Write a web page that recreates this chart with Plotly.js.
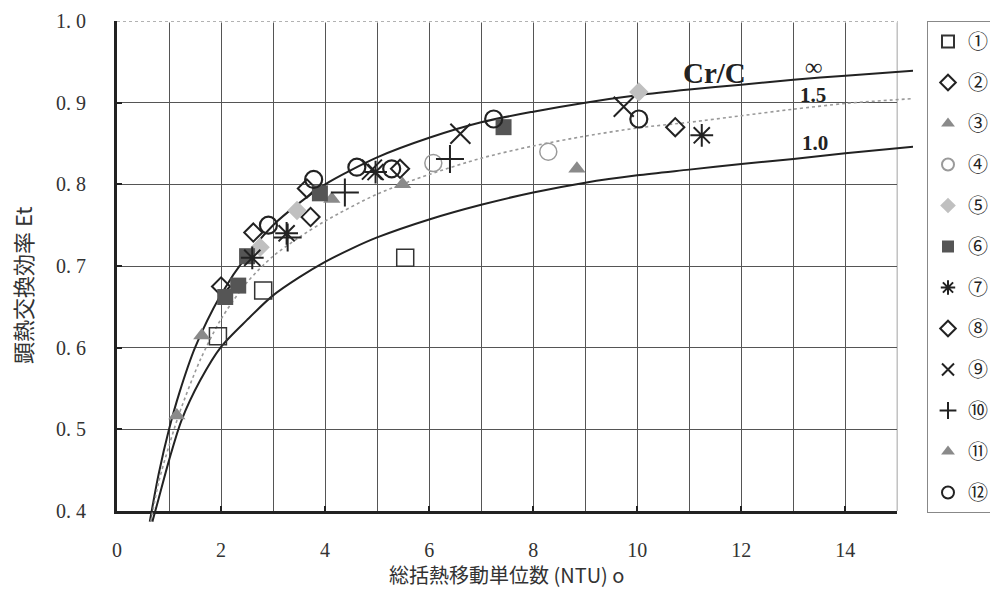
<!DOCTYPE html>
<html>
<head>
<meta charset="utf-8">
<script src="https://cdn.plot.ly/plotly-3.0.1.min.js"></script>
<style>html,body{margin:0;padding:0;background:#fff;}#chart{width:990px;height:590px;}</style>
</head>
<body>
<div id="chart"></div>
<script>
// ---- data ----
const xTickVals = [0, 2, 4, 6, 8, 10, 12, 14];
const xTickText = ["0", "2", "4", "6", "8", "10", "12", "14"];
const yTickVals = [0.4, 0.5, 0.6, 0.7, 0.8, 0.9, 1.0];
const yTickText = ["0. 4", "0. 5", "0. 6", "0. 7", "0. 8", "0. 9", "1. 0"];

// theoretical curves (Cr/C = ∞, 1.5, 1.0)
const infNTU = [0.63, 0.8, 1.0, 1.2, 1.5, 2, 2.5, 3, 3.5, 4, 5, 6, 7, 8, 9, 10, 11, 12, 13, 14, 15.3];
const infEt  = [0.387, 0.445, 0.50, 0.545, 0.60, 0.665, 0.713, 0.75, 0.777, 0.80, 0.833, 0.857, 0.876, 0.889, 0.90, 0.909, 0.916, 0.922, 0.928, 0.933, 0.939];
const c15NTU = [0.65, 0.8, 1.0, 1.2, 1.6, 2, 2.5, 3, 3.5, 4, 5, 6, 7, 8, 9, 10, 11, 12, 13, 14, 15.3];
const c15Et  = [0.387, 0.435, 0.48, 0.52, 0.585, 0.635, 0.68, 0.712, 0.735, 0.755, 0.788, 0.812, 0.832, 0.847, 0.859, 0.869, 0.876, 0.884, 0.892, 0.899, 0.905];
const c10NTU = [0.68, 0.8, 1.0, 1.24, 1.6, 2, 2.5, 3, 3.5, 4, 4.5, 5, 6, 7, 8, 9, 10, 11, 12, 13, 14, 15.3];
const c10Et  = [0.387, 0.415, 0.462, 0.511, 0.56, 0.601, 0.634, 0.664, 0.686, 0.705, 0.721, 0.735, 0.757, 0.775, 0.790, 0.802, 0.811, 0.818, 0.825, 0.831, 0.838, 0.846];

// measured points, series ①–⑫
const seriesNames = ["①", "②", "③", "④", "⑤", "⑥", "⑦", "⑧", "⑨", "⑩", "⑪", "⑫"];
const s1x = [1.94, 2.81, 5.54],            s1y = [0.614, 0.670, 0.710];
const s2x = [2.0, 2.62, 3.72, 3.65],       s2y = [0.675, 0.741, 0.760, 0.795];
const s3x = [4.13, 5.49, 8.84],            s3y = [0.782, 0.800, 0.819];
const s4x = [6.08, 8.29],                  s4y = [0.826, 0.840];
const s5x = [2.75, 3.46, 10.03],           s5y = [0.723, 0.768, 0.913];
const s6x = [2.08, 2.33, 2.5, 3.9, 7.43],  s6y = [0.662, 0.676, 0.712, 0.789, 0.870];
const s7x = [2.6, 3.26, 4.97, 11.24],      s7y = [0.710, 0.740, 0.815, 0.860];
const s8x = [5.44, 10.73],                 s8y = [0.819, 0.870];
const s9x = [4.9, 6.6, 9.74],              s9y = [0.818, 0.862, 0.895];
const s10x = [3.28, 4.38, 6.4],            s10y = [0.735, 0.790, 0.831];
const s11x = [1.15, 1.63],                 s11y = [0.517, 0.615];
const s12x = [2.91, 3.78, 4.61, 5.28, 7.24, 10.03], s12y = [0.750, 0.806, 0.821, 0.819, 0.880, 0.880];

// ---- styles ----
const seriesX = [s1x, s2x, s3x, s4x, s5x, s6x, s7x, s8x, s9x, s10x, s11x, s12x];
const seriesY = [s1y, s2y, s3y, s4y, s5y, s6y, s7y, s8y, s9y, s10y, s11y, s12y];
const markerStyles = [
  {symbol: "square-open", size: 17, color: "#333", line: {width: 1.5}},
  {symbol: "diamond-open", size: 14, color: "#222", line: {width: 2}},
  {symbol: "triangle-up", size: 15, color: "#8a8a8a"},
  {symbol: "circle-open", size: 17, color: "#9a9a9a", line: {width: 1.5}},
  {symbol: "diamond", size: 15, color: "#c0c0c0"},
  {symbol: "square", size: 16, color: "#555"},
  {symbol: "asterisk-open", size: 19, color: "#222", line: {width: 2}},
  {symbol: "diamond-open", size: 14, color: "#222", line: {width: 2}},
  {symbol: "x-thin-open", size: 20, color: "#222", line: {width: 2}},
  {symbol: "cross-thin-open", size: 20, color: "#222", line: {width: 2}},
  {symbol: "triangle-up", size: 15, color: "#8a8a8a"},
  {symbol: "circle-open", size: 17, color: "#222", line: {width: 2.2}}
];

const traces = [
  {x: infNTU, y: infEt, mode: "lines", line: {color: "#222", width: 2, shape: "spline", smoothing: 0.8}, showlegend: false, xaxis: "x2", yaxis: "y2", hoverinfo: "skip"},
  {x: c15NTU, y: c15Et, mode: "lines", line: {color: "#999", width: 1.6, dash: "dot", shape: "spline", smoothing: 0.8}, showlegend: false, xaxis: "x2", yaxis: "y2", hoverinfo: "skip"},
  {x: c10NTU, y: c10Et, mode: "lines", line: {color: "#222", width: 2, shape: "spline", smoothing: 0.8}, showlegend: false, xaxis: "x2", yaxis: "y2", hoverinfo: "skip"}
];
seriesNames.forEach((nm, i) => {
  const st = markerStyles[i];
  const mk = {symbol: st.symbol, size: st.size, color: st.color};
  if (st.line) mk.line = {width: st.line.width, color: st.color};
  traces.push({x: seriesX[i], y: seriesY[i], name: nm, mode: "markers", marker: mk,
    legendgroup: "g" + i, xaxis: "x2", yaxis: "y2"});
});

// geometry
const W = 990, H = 590, mL = 117, mR = 77, mT = 21, mB = 66;
const plotW = W - mL - mR, plotH = H - mT - mB;
const dom0 = 13 / plotH;                 // x-axis line sits 13 px above the bottom of the curve area
const y2min = 1 - 0.6 / (1 - dom0);
const xMax2 = 15.3;

const serif = "Liberation Serif, Noto Sans CJK JP, serif";
const tickFont = {family: serif, size: 20, color: "#333"};
const cjk = "Noto Sans CJK JP, sans-serif";

const layout = {
  width: W, height: H,
  margin: {l: mL, r: mR, t: mT, b: mB, autoexpand: false},
  paper_bgcolor: "#fff", plot_bgcolor: "rgba(0,0,0,0)",
  showlegend: true,
  xaxis: {domain: [0, 15 / xMax2], range: [0, 15], anchor: "y",
    tickmode: "array", tickvals: xTickVals, ticktext: xTickText,
    ticks: "inside", ticklen: 5, tickwidth: 2, tickcolor: "#222",
    showline: true, linewidth: 3, linecolor: "#222",
    showgrid: true, gridcolor: "#555", gridwidth: 1, zeroline: false,
    minor: {dtick: 1, tick0: 0, showgrid: true, gridcolor: "#555", gridwidth: 1, ticks: ""},
    ticklabelstandoff: 19, tickfont: tickFont},
  yaxis: {domain: [dom0, 1], range: [0.4, 1.0], anchor: "x",
    tickmode: "array", tickvals: yTickVals, ticktext: yTickText,
    ticks: "inside", ticklen: 5, tickwidth: 2, tickcolor: "#222",
    showline: true, linewidth: 3, linecolor: "#222",
    showgrid: true, gridcolor: "#555", gridwidth: 1, zeroline: false,
    ticklabelstandoff: 24, tickfont: tickFont},
  xaxis2: {domain: [0, 1], range: [0, xMax2], anchor: "y2", visible: false},
  yaxis2: {domain: [0, 1], range: [y2min, 1.0], anchor: "x2", visible: false},
  legend: {x: (927 - mL) / plotW, xanchor: "left", y: 1, yanchor: "top",
    bgcolor: "#fff", bordercolor: "#888", borderwidth: 1, itemsizing: "constant",
    font: {family: serif, size: 20, color: "#222"}, tracegroupgap: 12},
  shapes: [
    {type: "line", xref: "x", yref: "y", x0: 0, x1: 15, y0: 1.0, y1: 1.0, line: {color: "#fff", width: 3}, layer: "above"},
    {type: "line", xref: "x", yref: "y", x0: 0, x1: 15, y0: 1.0, y1: 1.0, line: {color: "#999", width: 1.5, dash: "dot"}, layer: "above"},
    {type: "line", xref: "x", yref: "y", x0: 15, x1: 15, y0: 0.4, y1: 1.0, line: {color: "#666", width: 1.2}, layer: "below"}
  ],
  annotations: [
    {xref: "x2", yref: "y2", x: 11.48, y: 0.936, text: "Cr/C", showarrow: false, font: {family: serif, size: 29, color: "#222", weight: "bold"}},
    {xref: "x2", yref: "y2", x: 13.38, y: 0.944, text: "∞", showarrow: false, font: {family: serif, size: 24, color: "#222", weight: "bold"}},
    {xref: "x2", yref: "y2", x: 13.37, y: 0.910, text: "1.5", showarrow: false, font: {family: serif, size: 21, color: "#222", weight: "bold"}},
    {xref: "x2", yref: "y2", x: 13.42, y: 0.851, text: "1.0", showarrow: false, font: {family: serif, size: 21, color: "#222", weight: "bold"}},
    {xref: "paper", yref: "paper", x: (506 - mL) / plotW, y: (H - mB - 574) / plotH, xanchor: "center", yanchor: "middle",
      text: "総括熱移動単位数 (NTU) o", showarrow: false, font: {family: cjk, size: 20, color: "#333"}},
    {xref: "paper", yref: "paper", x: (22 - mL) / plotW, y: (H - mB - 285) / plotH, xanchor: "center", yanchor: "middle",
      text: "顕熱交換効率 Et", textangle: -90, showarrow: false, font: {family: cjk, size: 22, color: "#333"}}
  ]
};

Plotly.newPlot("chart", traces, layout, {displayModeBar: false, staticPlot: true});
</script>
</body>
</html>
